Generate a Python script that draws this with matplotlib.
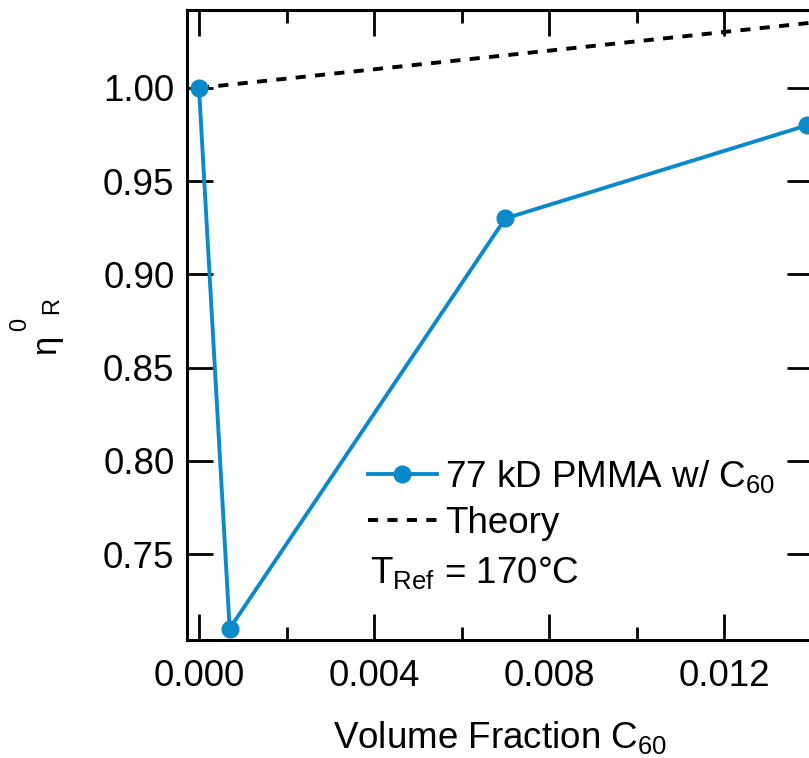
import numpy as np
import matplotlib
matplotlib.use('Agg')
import matplotlib.pyplot as plt
from matplotlib.ticker import MultipleLocator

plt.rcParams['font.family'] = ['Liberation Sans', 'DejaVu Sans']
plt.rcParams['mathtext.fontset'] = 'custom'
plt.rcParams['mathtext.rm'] = 'Liberation Sans'
plt.rcParams['mathtext.it'] = 'Liberation Sans'

# measured zero-shear viscosity ratio vs C60 volume fraction
phi = [0.0, 0.0007, 0.0070, 0.0139]
eta_r = [1.00, 0.71, 0.93, 0.98]

# Einstein prediction, end points
phi_th = [0.0, 0.0145]
eta_th = [1.00, 1.03625]

blue = '#0a8acb'
fs = 26.5

W, H = 809, 758
fig = plt.figure(figsize=(W / 100, H / 100), dpi=100)
axe = fig.add_axes([0.2311, 0.1557, 0.7738, 0.8311])

axe.plot(phi, eta_r, 'o-', c=blue, lw=2.8, ms=12, label='77 kD PMMA w/ C$_{60}$', zorder=3)
axe.plot(phi_th, eta_th, '--', c='black', lw=2.8, dashes=(2.6, 2.4), label='Theory', zorder=2)

axe.set_xlim(-0.000275, 0.01403)
axe.set_ylim(0.7039, 1.0418)

axe.xaxis.set_minor_locator(MultipleLocator(0.002))
axe.set_xticks([0.0, 0.004, 0.008, 0.012])
axe.set_xticklabels(['0.000', '0.004', '0.008', '0.012'])
axe.set_yticks([0.75, 0.80, 0.85, 0.90, 0.95, 1.00])
axe.set_yticklabels(['0.75', '0.80', '0.85', '0.90', '0.95', '1.00'])

axe.tick_params(which='both', direction='in', top=True, right=True, width=2.0, labelsize=fs)
axe.tick_params(which='major', length=18.5)
axe.tick_params(which='minor', length=9.5)
axe.tick_params(axis='x', pad=14)
axe.tick_params(axis='y', pad=9)
for s in axe.spines.values():
    s.set_linewidth(2.2)

axe.set_xlabel('Volume Fraction C$_{60}$', fontsize=fs, labelpad=18)

# y label: eta with raised 0 and lowered R, built from pieces
fig.text(46 / W, 1 - 344 / H, 'η', rotation=90, fontsize=25, ha='center', va='center')
fig.text(20 / W, 1 - 324 / H, '0', rotation=90, fontsize=17, ha='center', va='center')
fig.text(52 / W, 1 - 306 / H, 'R', rotation=90, fontsize=17, ha='center', va='center')

axe.legend(loc='upper left', bbox_to_anchor=(0.289, 0.289), frameon=False, fontsize=fs,
           handlelength=1.87, handletextpad=0.22, labelspacing=0.29, borderaxespad=0,
           borderpad=0)
axe.text(0.292, 0.0905, 'T$_{\\mathrm{Ref}}$ = 170°C', transform=axe.transAxes,
         fontsize=fs, va='baseline')

fig.savefig('out.png', dpi=100)
